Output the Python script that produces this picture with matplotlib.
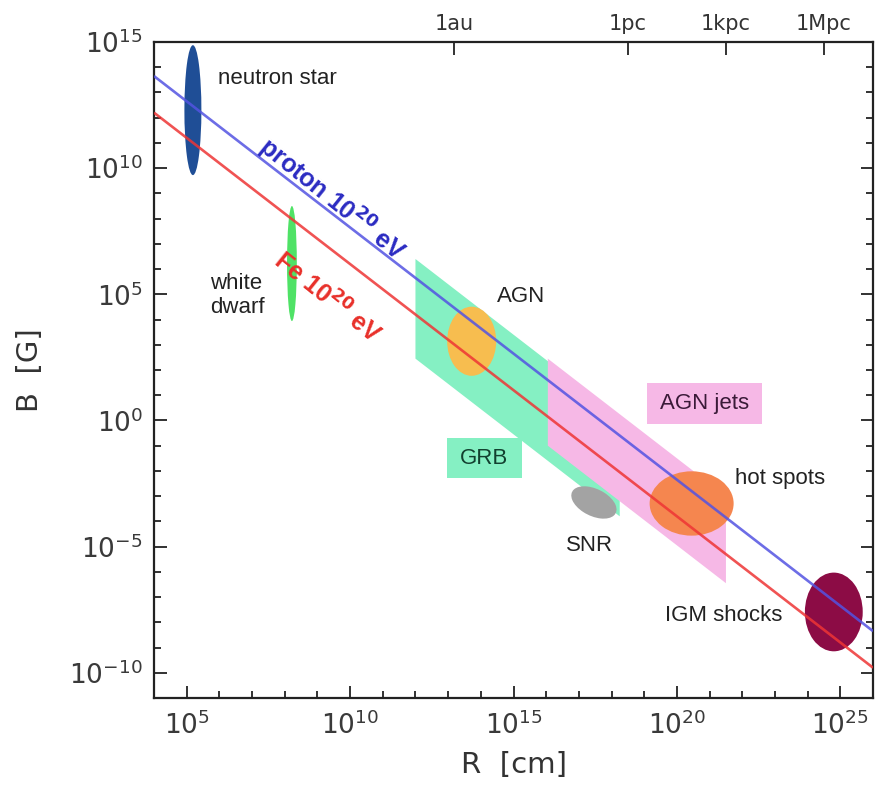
import numpy as np
import matplotlib

matplotlib.use('Agg')
import matplotlib.pyplot as plt
from matplotlib.patches import Ellipse, Polygon, Rectangle
from matplotlib.ticker import MultipleLocator, FuncFormatter

# sources drawn as ellipses, in log10 R [cm] / log10 B [G]
src_names = ['neutron star', 'white dwarf', 'AGN', 'SNR', 'hot spots', 'IGM shocks']
src_log_r = [5.19, 8.22, 13.72, 17.46, 20.45, 24.80]
src_log_b = [12.30, 6.22, 3.14, -3.25, -3.29, -7.59]
src_dr = [0.52, 0.30, 1.50, 1.60, 2.57, 1.77]
src_db = [5.15, 4.56, 2.74, 1.00, 2.55, 3.12]
src_tilt = [0, 0, 0, -40, 0, 0]
src_colors = ['#1f4e96', '#4fe266', '#f7bd4f', '#a3a3a3', '#f5864f', '#8c0c45']

# extended classes: bands parallel to the Hillas lines
band_names = ['GRB', 'AGN jets']
band_r_min = [12.0, 16.05]
band_r_max = [18.25, 21.5]
band_rb_lo = [14.45, 15.05]   # log10(R*B) of the lower edge
band_rb_hi = [18.4, 18.5]
band_colors = ['#85f0c3', '#f6b8e6']

# Hillas condition for E = 1e20 eV -> log10(B*R) = const
hillas_labels = ['proton', 'Fe']
hillas_log_br = [17.65, 16.2]
hillas_colors = ['#5353e2', '#ee3535']

# distance scale on top
dist_labels = ['1au', '1pc', '1kpc', '1Mpc']
dist_cm = [1.496e13, 3.086e18, 3.086e21, 3.086e24]

xlim = (4, 26)
ylim = (-11, 15)

fig = plt.figure(figsize=(8.76, 7.87), dpi=100)
ax = fig.add_axes([0.1758, 0.1131, 0.8208, 0.8335])
ax.set_xlim(*xlim)
ax.set_ylim(*ylim)

# bands
for i in range(len(band_names)):
    r0, r1 = band_r_min[i], band_r_max[i]
    lo, hi = band_rb_lo[i], band_rb_hi[i]
    verts = [(r0, hi - r0), (r1, hi - r1), (r1, lo - r1), (r0, lo - r0)]
    ax.add_patch(Polygon(verts, closed=True, facecolor=band_colors[i],
                         edgecolor='none', zorder=1 + i))

# ellipses
for i in range(len(src_names)):
    ax.add_patch(Ellipse((src_log_r[i], src_log_b[i]), src_dr[i], src_db[i],
                         angle=src_tilt[i], facecolor=src_colors[i],
                         edgecolor='none', zorder=3))

# Hillas lines
xx = np.array(xlim, dtype=float)
for i in range(len(hillas_labels)):
    ax.plot(xx, hillas_log_br[i] - xx, color=hillas_colors[i], lw=1.9,
            alpha=0.85, zorder=4, solid_capstyle='butt')

# labels
lab = dict(family='Liberation Sans', fontsize=16, color='#222222', zorder=5)
ax.text(5.96, 13.55, 'neutron star', ha='left', va='center', **lab)
ax.text(5.71, 4.96, 'white\ndwarf', ha='left', va='center', **lab)
ax.text(15.22, 4.92, 'AGN', ha='center', va='center', **lab)
ax.text(21.77, -2.3, 'hot spots', ha='left', va='center', **lab)
ax.text(17.33, -4.96, 'SNR', ha='center', va='center', **lab)
ax.text(21.43, -7.74, 'IGM shocks', ha='center', va='center', **lab)

# boxed labels for the bands
ax.add_patch(Rectangle((19.08, -0.13), 3.52, 1.63, facecolor=band_colors[1],
                       edgecolor='none', zorder=2))
ax.text(20.84, 0.68, 'AGN jets', ha='center', va='center',
        family='Liberation Sans', fontsize=16, color='#3a1a38', zorder=5)
ax.add_patch(Rectangle((12.96, -2.3), 2.29, 1.6, facecolor=band_colors[0],
                       edgecolor='none', zorder=2))
ax.text(14.1, -1.5, 'GRB', ha='center', va='center',
        family='Liberation Sans', fontsize=16, color='#12402f', zorder=5)

ang = -np.degrees(np.arctan((26.3) / (32.7)))
ax.text(9.45, 8.75, r'proton 10$^{\mathbf{20}}$ eV', rotation=ang,
        rotation_mode='anchor', ha='center', va='center',
        family='Liberation Sans', fontweight='bold', fontsize=18,
        color='#2b2bc2', zorder=5)
ax.text(9.3, 4.85, r'Fe 10$^{\mathbf{20}}$ eV', rotation=ang,
        rotation_mode='anchor', ha='center', va='center',
        family='Liberation Sans', fontweight='bold', fontsize=18,
        color='#e8302a', zorder=5)

# axes styling
fmt = FuncFormatter(lambda v, p: r'$10^{%d}$' % int(round(v)))
ax.xaxis.set_major_locator(MultipleLocator(5))
ax.xaxis.set_minor_locator(MultipleLocator(1))
ax.yaxis.set_major_locator(MultipleLocator(5))
ax.yaxis.set_minor_locator(MultipleLocator(1))
ax.xaxis.set_major_formatter(fmt)
ax.yaxis.set_major_formatter(fmt)
ax.tick_params(axis='both', which='both', direction='in', width=1.3,
               colors='#222222', labelcolor='#3a3a3a', labelsize=19)
ax.tick_params(axis='x', which='both', top=False, pad=10)
ax.tick_params(axis='y', which='both', right=True, pad=8)
ax.tick_params(which='major', length=9)
ax.tick_params(which='minor', length=5)
for s in ax.spines.values():
    s.set_linewidth(1.6)
    s.set_color('#222222')

top = ax.secondary_xaxis('top')
top.set_xticks(np.log10(dist_cm), labels=dist_labels)
top.tick_params(direction='in', length=9, width=1.3, colors='#222222',
                labelcolor='#333333', labelsize=15, pad=6)
top.spines['top'].set_visible(False)

ax.set_xlabel('R  [cm]', fontsize=21, color='#333333', labelpad=8)
ax.set_ylabel('B  [G]', fontsize=21, color='#333333', labelpad=18)

fig.savefig('out.png', dpi=100)
